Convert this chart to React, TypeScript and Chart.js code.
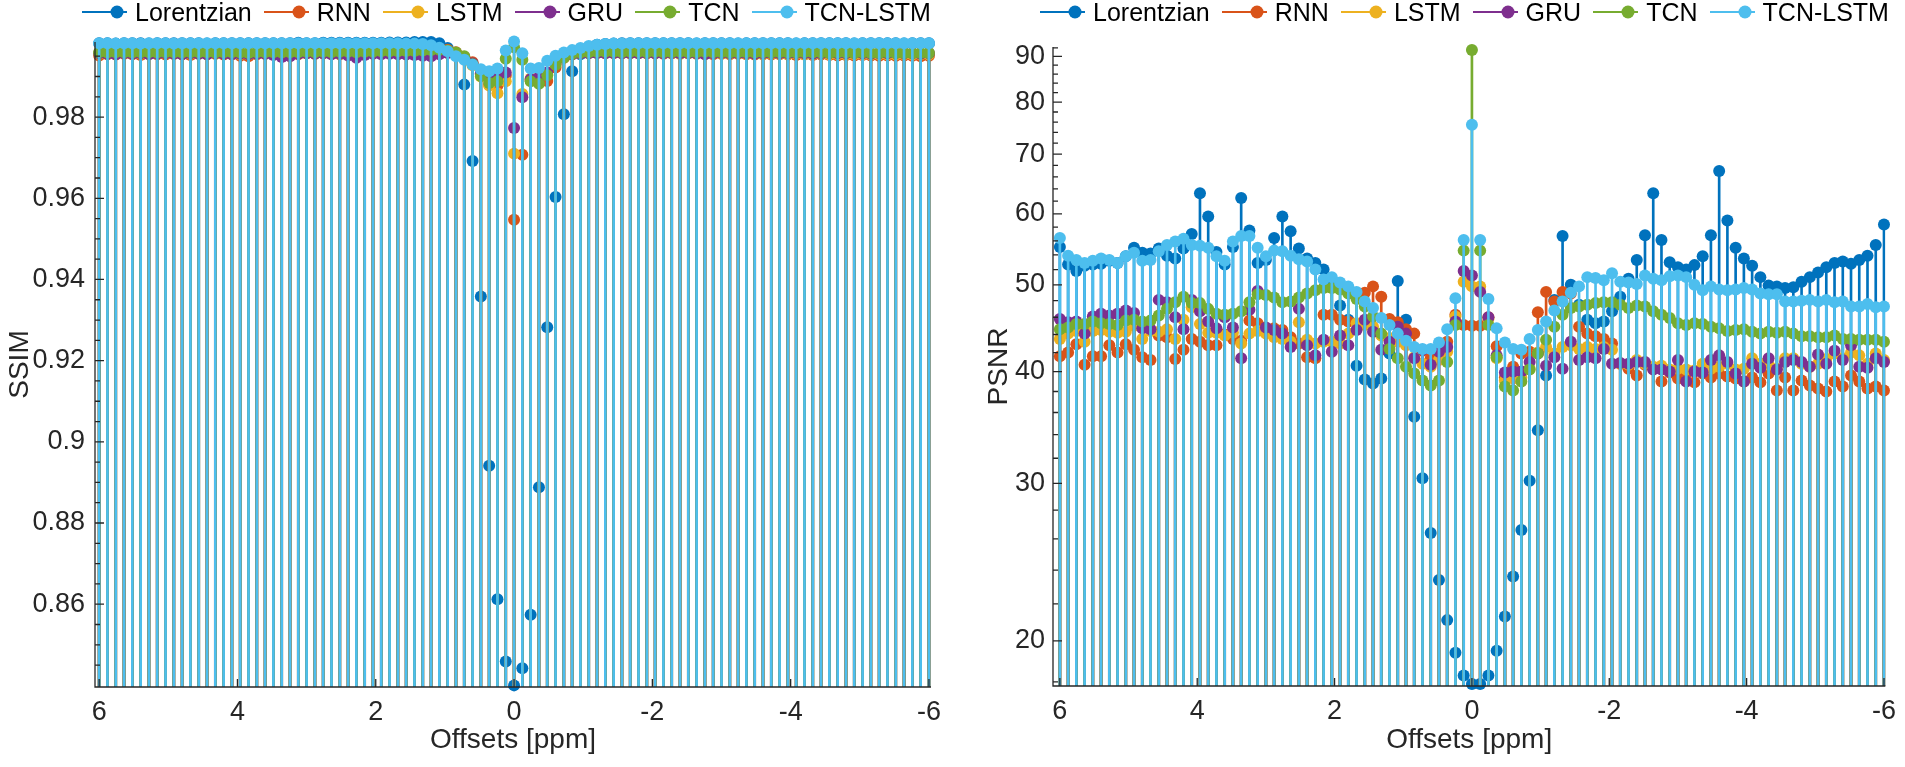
import { useEffect, useRef } from 'react'
import { Chart, registerables, type ChartConfiguration, type Plugin } from 'chart.js'

Chart.register(...registerables)

const FONT = '"Liberation Sans", Arial, Helvetica, sans-serif'
const INK = '#262626'

const SERIES_NAMES = ['Lorentzian', 'RNN', 'LSTM', 'GRU', 'TCN', 'TCN-LSTM']
const SERIES_COLORS = ['#0072BD', '#D95319', '#EDB120', '#7E2F8E', '#77AC30', '#4DBEEE']

// frequency offsets, 6 ppm down to -6 ppm
const OFFSETS = [
  6, 5.88, 5.76, 5.64, 5.52, 5.4, 5.28, 5.16, 5.04, 4.92,
  4.8, 4.68, 4.56, 4.44, 4.32, 4.2, 4.08, 3.96, 3.84, 3.72,
  3.6, 3.48, 3.36, 3.24, 3.12, 3, 2.88, 2.76, 2.64, 2.52,
  2.4, 2.28, 2.16, 2.04, 1.92, 1.8, 1.68, 1.56, 1.44, 1.32,
  1.2, 1.08, 0.96, 0.84, 0.72, 0.6, 0.48, 0.36, 0.24, 0.12,
  0, -0.12, -0.24, -0.36, -0.48, -0.6, -0.72, -0.84, -0.96, -1.08,
  -1.2, -1.32, -1.44, -1.56, -1.68, -1.8, -1.92, -2.04, -2.16, -2.28,
  -2.4, -2.52, -2.64, -2.76, -2.88, -3, -3.12, -3.24, -3.36, -3.48,
  -3.6, -3.72, -3.84, -3.96, -4.08, -4.2, -4.32, -4.44, -4.56, -4.68,
  -4.8, -4.92, -5.04, -5.16, -5.28, -5.4, -5.52, -5.64, -5.76, -5.88,
  -6,
]
const OFFSET_TICKS = [6, 4, 2, 0, -2, -4, -6]

const SSIM_TICKS = [0.86, 0.88, 0.9, 0.92, 0.94, 0.96, 0.98]
const SSIM_MINOR_TICKS = [
  0.845, 0.85, 0.855, 0.865, 0.87, 0.875, 0.885, 0.89, 0.895, 0.905, 0.91, 0.915,
  0.925, 0.93, 0.935, 0.945, 0.95, 0.955, 0.965, 0.97, 0.975, 0.985, 0.99, 0.995,
]
const PSNR_TICKS = [20, 30, 40, 50, 60, 70, 80, 90]
const PSNR_MINOR_TICKS = [
  18, 22, 24, 26, 28, 32, 34, 36, 38, 42, 44, 46, 48, 52, 54, 56, 58,
  62, 64, 66, 68, 72, 74, 76, 78, 82, 84, 86, 88, 92,
]

// ---- SSIM ----
const SSIM_LORENTZIAN = [
  0.9982, 0.9982, 0.9981, 0.9982, 0.9982, 0.9982, 0.9981, 0.9982, 0.9982, 0.9982,
  0.9982, 0.9982, 0.9982, 0.9981, 0.9982, 0.9982, 0.9982, 0.9982, 0.9982, 0.9982,
  0.9982, 0.9982, 0.9982, 0.9982, 0.9983, 0.9982, 0.9982, 0.9983, 0.9983, 0.9983,
  0.9983, 0.9983, 0.9983, 0.9983, 0.9983, 0.9984, 0.9984, 0.9984, 0.9985, 0.9985,
  0.9985, 0.9982, 0.997, 0.9956, 0.988, 0.9692, 0.9358, 0.8941, 0.8612, 0.8459,
  0.84, 0.8442, 0.8574, 0.8888, 0.9282, 0.9603, 0.9807, 0.9913, 0.9955, 0.9972,
  0.9978, 0.998, 0.9981, 0.9982, 0.9982, 0.9982, 0.9982, 0.9982, 0.9982, 0.9982,
  0.9982, 0.9982, 0.9981, 0.9982, 0.9982, 0.9982, 0.9982, 0.9981, 0.9982, 0.9982,
  0.9982, 0.9982, 0.9982, 0.9982, 0.9981, 0.9982, 0.9982, 0.9982, 0.9982, 0.9982,
  0.9982, 0.9981, 0.9982, 0.9982, 0.9982, 0.9982, 0.9982, 0.9981, 0.9982, 0.9982,
  0.9982,
]
const SSIM_RNN = [
  0.9952, 0.9955, 0.9954, 0.9956, 0.9955, 0.9953, 0.9956, 0.9955, 0.9954, 0.9956,
  0.9955, 0.9953, 0.9956, 0.9955, 0.9956, 0.9954, 0.9955, 0.9951, 0.995, 0.9955,
  0.9956, 0.9955, 0.9957, 0.9956, 0.9955, 0.9957, 0.9956, 0.9957, 0.9956, 0.9955,
  0.9957, 0.9954, 0.9956, 0.9957, 0.9957, 0.9958, 0.9958, 0.996, 0.9961, 0.9964,
  0.9968, 0.9969, 0.9966, 0.996, 0.9948, 0.9935, 0.9905, 0.988, 0.9878, 0.9902,
  0.9547, 0.9707, 0.989, 0.9893, 0.9889, 0.9922, 0.9946, 0.9955, 0.9958, 0.996,
  0.996, 0.9959, 0.9958, 0.9958, 0.9957, 0.9958, 0.9957, 0.9957, 0.9956, 0.9957,
  0.9956, 0.9957, 0.9956, 0.9956, 0.9955, 0.9956, 0.9955, 0.9956, 0.9955, 0.9954,
  0.9955, 0.9954, 0.9955, 0.9954, 0.9953, 0.9954, 0.9953, 0.9954, 0.9953, 0.9952,
  0.9953, 0.9952, 0.9953, 0.9952, 0.9951, 0.9952, 0.9951, 0.9952, 0.9951, 0.995,
  0.9951,
]
const SSIM_LSTM = [
  0.9956, 0.9957, 0.9956, 0.9957, 0.9957, 0.9956, 0.9957, 0.9956, 0.9957, 0.9956,
  0.9957, 0.9956, 0.9957, 0.9957, 0.9956, 0.9957, 0.9956, 0.9955, 0.9954, 0.9956,
  0.9957, 0.9956, 0.9957, 0.9956, 0.9957, 0.9957, 0.9956, 0.9957, 0.9957, 0.9956,
  0.9957, 0.9956, 0.9957, 0.9957, 0.9958, 0.9958, 0.9959, 0.996, 0.9961, 0.9962,
  0.9964, 0.9964, 0.9962, 0.9957, 0.9945, 0.9928, 0.99, 0.9878, 0.9859, 0.9888,
  0.971, 0.9857, 0.9895, 0.9897, 0.9905, 0.993, 0.9948, 0.9955, 0.9957, 0.9958,
  0.9958, 0.9957, 0.9958, 0.9957, 0.9958, 0.9957, 0.9957, 0.9958, 0.9957, 0.9957,
  0.9956, 0.9957, 0.9957, 0.9956, 0.9957, 0.9956, 0.9956, 0.9957, 0.9956, 0.9956,
  0.9955, 0.9956, 0.9956, 0.9955, 0.9956, 0.9955, 0.9955, 0.9956, 0.9955, 0.9955,
  0.9954, 0.9955, 0.9955, 0.9954, 0.9955, 0.9954, 0.9954, 0.9955, 0.9954, 0.9954,
  0.9954,
]
const SSIM_GRU = [
  0.9957, 0.9956, 0.9955, 0.9957, 0.9956, 0.9957, 0.9955, 0.9956, 0.9957, 0.9956,
  0.9955, 0.9957, 0.9956, 0.9955, 0.9957, 0.9956, 0.9955, 0.9956, 0.9955, 0.9956,
  0.9956, 0.9953, 0.9948, 0.995, 0.9956, 0.9957, 0.9956, 0.9957, 0.9955, 0.9956,
  0.9952, 0.9946, 0.9953, 0.9956, 0.9955, 0.9956, 0.9955, 0.9954, 0.9953, 0.9951,
  0.995, 0.9955, 0.9958, 0.9955, 0.9947, 0.9932, 0.9908, 0.99, 0.9899, 0.991,
  0.9773, 0.9849, 0.9893, 0.9898, 0.991, 0.9933, 0.995, 0.9955, 0.9957, 0.9957,
  0.9958, 0.9957, 0.9958, 0.9957, 0.9958, 0.9957, 0.9958, 0.9957, 0.9957, 0.9958,
  0.9957, 0.9958, 0.9957, 0.9955, 0.9957, 0.9958, 0.9957, 0.9958, 0.9957, 0.9956,
  0.9957, 0.9958, 0.9957, 0.9957, 0.9958, 0.9957, 0.9956, 0.9957, 0.9958, 0.9957,
  0.9957, 0.9958, 0.9957, 0.9956, 0.9957, 0.9957, 0.9958, 0.9957, 0.9957, 0.9956,
  0.9957,
]
const SSIM_TCN = [
  0.996, 0.9959, 0.996, 0.996, 0.9959, 0.996, 0.996, 0.9959, 0.996, 0.996,
  0.9959, 0.996, 0.996, 0.996, 0.9959, 0.996, 0.996, 0.9959, 0.9958, 0.996,
  0.996, 0.996, 0.9959, 0.996, 0.996, 0.9961, 0.996, 0.9961, 0.996, 0.9961,
  0.9961, 0.996, 0.9961, 0.9961, 0.9962, 0.9962, 0.9962, 0.9963, 0.9963, 0.9964,
  0.9965, 0.9966, 0.9964, 0.9959, 0.995, 0.993, 0.9901, 0.9884, 0.9888, 0.9944,
  0.9972, 0.9941, 0.9888, 0.9882, 0.9903, 0.9929, 0.9946, 0.9956, 0.9959, 0.996,
  0.9961, 0.9961, 0.9961, 0.996, 0.9961, 0.9961, 0.996, 0.9961, 0.996, 0.996,
  0.9961, 0.996, 0.996, 0.9961, 0.996, 0.996, 0.9959, 0.996, 0.996, 0.9959,
  0.996, 0.9959, 0.996, 0.9959, 0.9959, 0.996, 0.9959, 0.9959, 0.9958, 0.9959,
  0.9959, 0.9958, 0.9959, 0.9958, 0.9958, 0.9959, 0.9958, 0.9958, 0.9957, 0.9958,
  0.9958,
]
const SSIM_TCN_LSTM = [
  0.9982, 0.9982, 0.9981, 0.9982, 0.9982, 0.9981, 0.9982, 0.9982, 0.9982, 0.9981,
  0.9982, 0.9982, 0.9982, 0.9982, 0.9982, 0.9982, 0.9982, 0.9982, 0.9982, 0.9982,
  0.9982, 0.9982, 0.9982, 0.9982, 0.9982, 0.9982, 0.9982, 0.9982, 0.9982, 0.9982,
  0.9982, 0.9982, 0.9982, 0.9982, 0.9982, 0.9982, 0.9982, 0.9981, 0.9981, 0.998,
  0.9977, 0.9971, 0.9962, 0.995, 0.9941, 0.9929, 0.9918, 0.9913, 0.992, 0.9964,
  0.9986, 0.9957, 0.992, 0.9921, 0.9939, 0.9951, 0.9959, 0.9965, 0.997, 0.9975,
  0.9978, 0.998, 0.9981, 0.9981, 0.9982, 0.9982, 0.9982, 0.9982, 0.9982, 0.9982,
  0.9982, 0.9982, 0.9982, 0.9982, 0.9982, 0.9982, 0.9982, 0.9982, 0.9982, 0.9982,
  0.9982, 0.9982, 0.9982, 0.9982, 0.9982, 0.9982, 0.9982, 0.9982, 0.9982, 0.9982,
  0.9982, 0.9982, 0.9982, 0.9982, 0.9982, 0.9982, 0.9982, 0.9982, 0.9982, 0.9982,
  0.9982,
]

// ---- PSNR ----
const PSNR_LORENTZIAN = [
  55.1, 52.7, 51.8, 52.5, 52.7, 52.8, 53.2, 52.9, 53.8, 55.0,
  54.3, 54.2, 54.9, 53.9, 53.5, 54.9, 57.0, 63.3, 59.6, 54.4,
  52.7, 55.1, 62.5, 57.5, 52.9, 53.3, 56.4, 59.6, 57.4, 54.9,
  53.5, 52.9, 52.0, 50.6, 47.4, 45.7, 40.6, 39.2, 38.8, 39.3,
  41.9, 50.5, 45.7, 35.6, 30.4, 26.4, 23.4, 21.1, 19.4, 18.3,
  17.9, 17.9, 18.3, 19.5, 21.3, 23.6, 26.6, 30.2, 34.4, 39.6,
  48.1, 56.7, 50.0, 47.5, 45.7, 45.3, 45.5, 46.7, 48.5, 50.8,
  53.3, 56.8, 63.3, 56.1, 53.0, 52.3, 52.0, 52.6, 53.8, 56.8,
  67.0, 59.0, 55.0, 53.5, 52.5, 51.0, 49.9, 49.8, 49.6, 49.7,
  50.4, 51.0, 51.6, 52.3, 52.9, 53.1, 52.8, 53.3, 53.9, 55.4,
  58.4,
]
const PSNR_RNN = [
  41.6, 42.0, 42.9, 40.7, 41.6, 41.6, 42.8, 42.0, 42.9, 42.3,
  41.5, 41.2, 43.9, 43.7, 41.3, 42.3, 43.5, 43.2, 42.8, 42.8,
  44.0, 43.5, 43.3, 45.6, 45.3, 44.6, 44.7, 44.5, 43.7, 43.0,
  41.5, 41.4, 46.3, 46.3, 45.7, 45.5, 48.9, 49.0, 49.8, 48.5,
  45.8, 45.4, 44.6, 44.1, 42.2, 41.4, 41.9, 43.2, 46.3, 45.1,
  45.0, 45.0, 46.0, 42.7, 39.4, 40.5, 41.9, 42.1, 46.6, 49.1,
  47.9, 49.1, 48.9, 44.9, 44.1, 43.8, 43.5, 43.0, 40.8, 40.3,
  39.6, 40.7, 40.3, 39.0, 39.9, 39.3, 39.8, 38.9, 39.8, 39.4,
  39.8, 39.5, 39.3, 39.0, 39.4, 38.9, 39.8, 38.1, 39.4, 38.1,
  39.1, 38.6, 38.3, 38.0, 39.0, 38.5, 39.6, 39.0, 38.3, 38.5,
  38.1,
]
const PSNR_LSTM = [
  43.5, 44.1, 44.4, 43.2, 44.4, 44.5, 44.3, 44.2, 44.3, 45.0,
  43.5, 44.4, 44.3, 44.6, 43.5, 45.7, 47.2, 45.2, 44.2, 44.2,
  43.9, 44.2, 43.0, 44.1, 44.4, 44.1, 43.7, 43.5, 43.2, 45.4,
  43.4, 43.0, 43.2, 43.2, 43.0, 44.1, 45.3, 45.1, 44.9, 43.9,
  43.6, 43.2, 42.8, 41.5, 40.8, 40.5, 41.2, 42.1, 46.1, 50.4,
  49.8, 49.8, 45.8, 41.4, 39.1, 39.3, 39.4, 40.3, 42.0, 42.6,
  41.9, 42.6, 42.8, 42.4, 42.6, 42.4, 42.6, 42.3, 40.8, 40.7,
  41.2, 40.8, 40.5, 40.6, 40.2, 40.3, 40.2, 40.1, 40.8, 40.3,
  40.5, 40.8, 40.2, 40.3, 41.4, 40.8, 40.7, 40.3, 41.4, 41.4,
  40.8, 40.5, 40.8, 41.3, 41.9, 41.4, 42.0, 41.7, 40.8, 41.9,
  41.2,
]
const PSNR_GRU = [
  45.8, 45.4, 45.5, 44.1, 46.1, 46.4, 46.2, 46.4, 46.8, 46.5,
  44.7, 44.6, 48.1, 47.8, 46.0, 44.6, 48.1, 46.7, 45.5, 44.7,
  46.0, 44.8, 41.4, 46.9, 49.2, 44.8, 44.5, 44.1, 42.6, 47.0,
  42.8, 41.7, 43.4, 42.1, 43.9, 42.8, 44.5, 45.7, 44.3, 42.3,
  43.2, 44.9, 44.1, 41.4, 42.3, 40.7, 42.1, 42.6, 45.5, 51.8,
  51.2, 49.1, 46.0, 41.7, 39.9, 40.0, 40.0, 41.0, 41.9, 40.6,
  41.5, 40.3, 43.2, 41.2, 41.5, 41.4, 42.4, 40.8, 40.9, 40.8,
  41.0, 41.0, 40.2, 40.2, 40.0, 41.2, 39.0, 40.0, 39.9, 41.2,
  41.7, 41.0, 39.8, 39.0, 40.8, 40.4, 41.4, 40.2, 41.0, 41.2,
  41.0, 40.5, 41.8, 40.8, 42.2, 41.2, 42.8, 40.5, 40.4, 41.4,
  41.0,
]
const PSNR_TCN = [
  44.6, 44.8, 45.2, 45.2, 45.5, 45.3, 45.2, 45.1, 45.6, 45.7,
  45.5, 45.6, 46.2, 47.0, 47.8, 48.5, 47.7, 47.7, 47.0, 46.4,
  46.3, 46.4, 46.7, 47.8, 48.8, 48.7, 48.4, 47.8, 47.9, 48.4,
  48.9, 49.3, 49.6, 49.6, 49.4, 48.9, 48.2, 47.3, 46.1, 44.1,
  42.4, 41.4, 40.5, 39.8, 39.1, 38.6, 39.1, 41.0, 45.1, 54.6,
  91.5, 54.6, 45.1, 41.5, 38.5, 38.1, 39.0, 40.2, 41.9, 43.4,
  44.9, 46.3, 47.1, 47.3, 47.5, 47.7, 47.8, 47.8, 47.5, 47.1,
  47.4, 47.3, 46.7, 46.3, 45.9, 45.3, 45.1, 45.3, 45.2, 44.9,
  44.7, 44.4, 44.5, 44.6, 44.3, 44.1, 44.3, 44.2, 44.3, 44.1,
  43.8, 43.8, 43.7, 43.7, 43.9, 43.5, 43.5, 43.4, 43.4, 43.4,
  43.2,
]
const PSNR_TCN_LSTM = [
  56.4, 53.9, 53.3, 52.9, 53.2, 53.5, 53.3, 52.9, 53.8, 54.3,
  53.2, 53.3, 54.5, 55.4, 55.9, 56.3, 55.4, 55.3, 55.0, 53.8,
  53.2, 55.9, 56.7, 56.7, 55.0, 53.8, 54.6, 54.5, 53.9, 53.4,
  53.1, 52.0, 50.7, 51.0, 50.3, 49.8, 49.1, 47.9, 47.1, 45.9,
  45.1, 44.1, 43.3, 42.6, 42.4, 42.4, 43.1, 44.6, 48.3, 56.1,
  75.5, 56.1, 48.2, 44.7, 43.1, 42.4, 42.3, 43.5, 44.5, 45.5,
  46.8, 47.9, 49.0, 49.8, 51.0, 50.9, 50.6, 51.5, 50.4, 50.3,
  50.1, 51.2, 50.8, 50.6, 51.1, 51.2, 51.0, 50.0, 49.3, 49.8,
  49.4, 49.3, 49.4, 49.6, 49.4, 48.9, 48.8, 48.8, 47.9, 47.9,
  48.0, 48.1, 47.9, 48.1, 47.8, 47.9, 47.3, 47.3, 47.6, 47.2,
  47.3,
]

const SSIM_SERIES = [SSIM_LORENTZIAN, SSIM_RNN, SSIM_LSTM, SSIM_GRU, SSIM_TCN, SSIM_TCN_LSTM]
const PSNR_SERIES = [PSNR_LORENTZIAN, PSNR_RNN, PSNR_LSTM, PSNR_GRU, PSNR_TCN, PSNR_TCN_LSTM]

// axis lines and inward (MATLAB style) tick marks
const matlabAxes: Plugin = {
  id: 'matlabAxes',
  afterDatasetsDraw(chart, _args, opts: any) {
    const { ctx, chartArea } = chart
    const x = chart.scales.x
    const y = chart.scales.y
    ctx.save()
    ctx.strokeStyle = INK
    ctx.lineWidth = 1.3
    ctx.beginPath()
    ctx.moveTo(chartArea.left, chartArea.top)
    ctx.lineTo(chartArea.left, chartArea.bottom)
    ctx.lineTo(chartArea.right, chartArea.bottom)
    for (const v of OFFSET_TICKS) {
      const px = x.getPixelForValue(v)
      ctx.moveTo(px, chartArea.bottom)
      ctx.lineTo(px, chartArea.bottom - 8)
    }
    for (const v of opts.major) {
      const py = y.getPixelForValue(v)
      ctx.moveTo(chartArea.left, py)
      ctx.lineTo(chartArea.left + 9, py)
    }
    for (const v of opts.minor) {
      const py = y.getPixelForValue(v)
      ctx.moveTo(chartArea.left, py)
      ctx.lineTo(chartArea.left + 5, py)
    }
    ctx.stroke()
    ctx.restore()
  },
}

type PanelProps = {
  series: number[][]
  yLabel: string
  logY: boolean
  yMin: number
  yMax: number
  xMin: number
  xMax: number
  yTicks: number[]
  yMinorTicks: number[]
  axisWidth: number
  axisHeight: number
  padTop: number
  padRight: number
  yTitlePad: number
  yTickPad: number
}

function StemPanel(props: PanelProps) {
  const canvasRef = useRef<HTMLCanvasElement | null>(null)

  useEffect(() => {
    if (!canvasRef.current) {
      return
    }

    const datasets: any[] = []
    props.series.forEach((values, i) => {
      const points = OFFSETS.map((x, k) => ({ x, y: values[k] }))
      const depth = 2 * (SERIES_NAMES.length - i)
      datasets.push({
        type: 'bar',
        label: SERIES_NAMES[i] + ' stem',
        data: points,
        backgroundColor: SERIES_COLORS[i],
        borderWidth: 0,
        barThickness: 2,
        grouped: false,
        order: depth,
      })
      datasets.push({
        type: 'scatter',
        label: SERIES_NAMES[i],
        data: points,
        showLine: false,
        backgroundColor: SERIES_COLORS[i],
        borderColor: SERIES_COLORS[i],
        pointRadius: 6,
        pointBorderWidth: 0,
        clip: false,
        order: depth - 1,
      })
    })

    const tickFont = { family: FONT, size: 27 }
    const titleFont = { family: FONT, size: 28 }

    const config: ChartConfiguration = {
      type: 'scatter',
      data: { datasets },
      options: {
        responsive: true,
        maintainAspectRatio: false,
        animation: false,
        events: [],
        layout: { padding: { top: props.padTop, right: props.padRight, left: 0, bottom: 0 } },
        plugins: {
          legend: { display: false },
          tooltip: { enabled: false },
          matlabAxes: { major: props.yTicks, minor: props.yMinorTicks },
        } as any,
        scales: {
          x: {
            type: 'linear',
            reverse: true,
            min: props.xMin,
            max: props.xMax,
            offset: false,
            grid: { display: false, drawTicks: false },
            border: { display: false },
            afterBuildTicks: (scale) => {
              scale.ticks = OFFSET_TICKS.map((value) => ({ value }))
            },
            afterFit: (scale) => {
              scale.height = props.axisHeight
            },
            ticks: {
              autoSkip: false,
              maxRotation: 0,
              padding: 9,
              color: INK,
              font: tickFont,
              callback: (v) => String(v),
            },
            title: {
              display: true,
              text: 'Offsets [ppm]',
              color: INK,
              font: titleFont,
              padding: { top: 0, bottom: 10 },
            },
          },
          y: {
            type: props.logY ? 'logarithmic' : 'linear',
            min: props.yMin,
            max: props.yMax,
            grid: { display: false, drawTicks: false },
            border: { display: false },
            afterBuildTicks: (scale) => {
              scale.ticks = props.yTicks.map((value) => ({ value }))
            },
            afterFit: (scale) => {
              scale.width = props.axisWidth
            },
            ticks: {
              autoSkip: false,
              padding: props.yTickPad,
              color: INK,
              font: tickFont,
              callback: (v) => String(v),
            },
            title: {
              display: true,
              text: props.yLabel,
              color: INK,
              font: titleFont,
              padding: { top: props.yTitlePad, bottom: 0 },
            },
          },
        },
      },
      plugins: [matlabAxes],
    }

    const chart = new Chart(canvasRef.current, config)

    return () => {
      chart.destroy()
    }
  }, [])

  return <canvas ref={canvasRef} aria-label={props.yLabel + ' stem plot'} />
}

function StemLegend({ left }: { left: number }) {
  return (
    <div
      style={{
        position: 'absolute',
        left,
        top: 0,
        height: 25,
        display: 'flex',
        alignItems: 'center',
        whiteSpace: 'nowrap',
        fontFamily: FONT,
        fontSize: 25,
        lineHeight: '25px',
        color: '#000',
      }}
    >
      {SERIES_NAMES.map((name, i) => (
        <span key={name} style={{ display: 'flex', alignItems: 'center', marginRight: i < SERIES_NAMES.length - 1 ? 12 : 0 }}>
          <svg width={45} height={25} style={{ display: 'block' }}>
            <line x1={0} y1={12} x2={45} y2={12} stroke={SERIES_COLORS[i]} strokeWidth={2} />
            <circle cx={35} cy={12} r={6.5} fill={SERIES_COLORS[i]} />
          </svg>
          <span style={{ marginLeft: 8 }}>{name}</span>
        </span>
      ))}
    </div>
  )
}

export default function App() {
  return (
    <div style={{ position: 'absolute', left: 0, top: 0, width: 1905, height: 767, background: '#fff', overflow: 'hidden' }}>
      <div style={{ position: 'absolute', left: 0, top: 0, width: 950, height: 767 }}>
        <StemPanel
          series={SSIM_SERIES}
          yLabel="SSIM"
          logY={false}
          yMin={0.8396}
          yMax={0.9985}
          xMin={-6.03}
          xMax={6.06}
          yTicks={SSIM_TICKS}
          yMinorTicks={SSIM_MINOR_TICKS}
          axisWidth={95}
          axisHeight={80}
          padTop={42}
          padRight={16}
          yTitlePad={3}
          yTickPad={10}
        />
      </div>
      <div style={{ position: 'absolute', left: 950, top: 0, width: 955, height: 767 }}>
        <StemPanel
          series={PSNR_SERIES}
          yLabel="PSNR"
          logY={true}
          yMin={17.81}
          yMax={92.2}
          xMin={-6.02}
          xMax={6.1}
          yTicks={PSNR_TICKS}
          yMinorTicks={PSNR_MINOR_TICKS}
          axisWidth={103}
          axisHeight={81}
          padTop={47}
          padRight={9}
          yTitlePad={32}
          yTickPad={8}
        />
      </div>
      <StemLegend left={82} />
      <StemLegend left={1040} />
    </div>
  )
}
